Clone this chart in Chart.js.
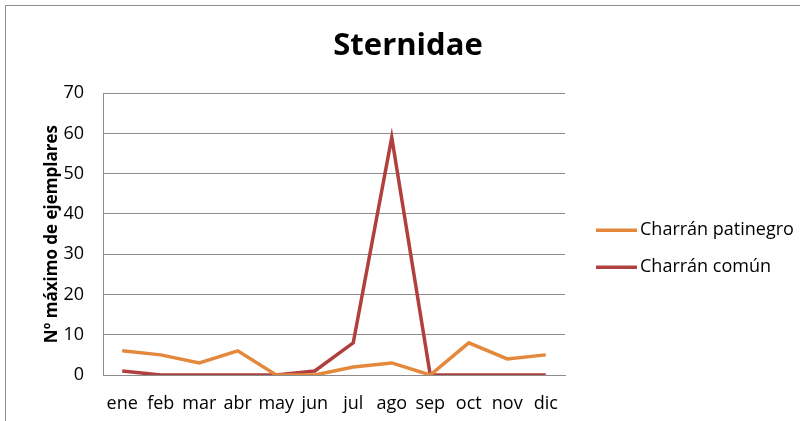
<!DOCTYPE html>
<html>
<head>
<meta charset="utf-8">
<script src="https://cdn.jsdelivr.net/npm/chart.js@4/dist/chart.umd.min.js"></script>
<style>
  html, body { margin: 0; padding: 0; background: #fff; overflow: hidden; }
  #frame {
    position: absolute; left: 5px; top: 5px;
    width: 900px; height: 500px;
    border: 1px solid #8c8c8c;
  }
  #wrap { position: absolute; left: 0; top: 0; width: 800px; height: 421px; }
</style>
</head>
<body>
<div id="frame"></div>
<div id="wrap"><canvas id="sternidaeChart"></canvas></div>
<script>
const months = ["ene", "feb", "mar", "abr", "may", "jun", "jul", "ago", "sep", "oct", "nov", "dic"];
const patinegro = [6, 5, 3, 6, 0, 0, 2, 3, 0, 8, 4, 5];
const comun = [1, 0, 0, 0, 0, 1, 8, 59, 0, 0, 0, 0];
const yTicks = [0, 10, 20, 30, 40, 50, 60, 70];

const font = "'Open Sans', 'Liberation Sans', sans-serif";

// legend drawn as a column to the right of the plot, line sample + label
const sideLegend = {
  id: "sideLegend",
  afterDraw(chart) {
    const { ctx, chartArea } = chart;
    const x = chartArea.right + 31;
    ctx.save();
    ctx.font = "18px " + font;
    ctx.textBaseline = "middle";
    ctx.textAlign = "left";
    chart.data.datasets.forEach((ds, i) => {
      const y = chartArea.top + 137 + i * 37;
      ctx.strokeStyle = ds.borderColor;
      ctx.lineWidth = ds.borderWidth;
      ctx.beginPath();
      ctx.moveTo(x, y);
      ctx.lineTo(x + 41, y);
      ctx.stroke();
      ctx.fillStyle = "#000";
      ctx.fillText(ds.label, x + 44, y);
    });
    ctx.restore();
  },
};

document.addEventListener("DOMContentLoaded", () => {
  const ctx = document.getElementById("sternidaeChart").getContext("2d");

  new Chart(ctx, {
    type: "line",
    data: {
      labels: months,
      datasets: [
        {
          label: "Charrán patinegro",
          data: patinegro,
          borderColor: "#E4883C",
          backgroundColor: "#E4883C",
          borderWidth: 3.5,
          pointRadius: 0,
          tension: 0,
        },
        {
          label: "Charrán común",
          data: comun,
          borderColor: "#B0403D",
          backgroundColor: "#B0403D",
          borderWidth: 3.5,
          pointRadius: 0,
          tension: 0,
        },
      ],
    },
    plugins: [sideLegend],
    options: {
      responsive: true,
      maintainAspectRatio: false,
      animation: false,
      layout: { padding: { left: 37, right: 21, top: 14, bottom: 6 } },
      plugins: {
        title: {
          display: true,
          text: "Sternidae",
          color: "#000",
          font: { family: font, size: 31, weight: "bold" },
          padding: { top: 14, bottom: 28 },
        },
        legend: { display: false },
        tooltip: { enabled: false },
      },
      scales: {
        x: {
          offset: true,
          grid: { display: false, drawTicks: false },
          border: { display: true, color: "#8c8c8c", width: 1 },
          ticks: {
            color: "#000",
            padding: 18,
            maxRotation: 0,
            minRotation: 0,
            autoSkip: false,
            font: { family: font, size: 18 },
          },
          afterFit: (scale) => {
            scale.height = 40;
          },
        },
        y: {
          min: 0,
          max: 70,
          afterBuildTicks: (axis) => {
            axis.ticks = yTicks.map((v) => ({ value: v }));
          },
          grid: { color: "#8c8c8c", drawTicks: false },
          border: { display: true, color: "#8c8c8c", width: 1 },
          ticks: {
            color: "#000",
            padding: 19,
            font: { family: font, size: 18 },
          },
          title: {
            display: true,
            text: "Nº máximo de ejemplares",
            color: "#000",
            font: { family: font, size: 17, weight: "bold" },
            padding: { top: 5, bottom: 2 },
          },
          afterFit: (scale) => {
            scale.width = 66;
          },
        },
        // empty right-hand axis: reserves the room the legend sits in
        gap: {
          type: "linear",
          position: "right",
          grid: { display: false, drawTicks: false },
          border: { display: false },
          ticks: { display: false },
          afterFit: (scale) => {
            scale.width = 214;
          },
        },
      },
    },
  });
});
</script>
</body>
</html>
